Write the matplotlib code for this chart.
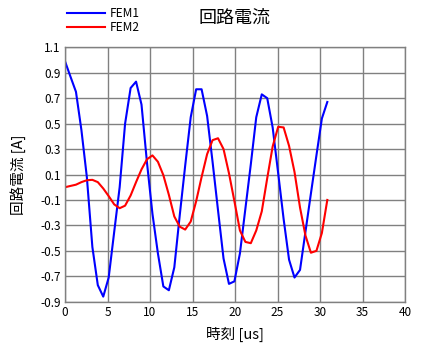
import numpy as np
import matplotlib.pyplot as plt

plt.rcParams['font.family'] = ['Noto Sans CJK JP', 'DejaVu Sans']

# time [us]
t = [0.00, 0.64, 1.29, 1.93, 2.57, 3.22, 3.86, 4.50, 5.14, 5.79,
     6.43, 7.07, 7.72, 8.36, 9.00, 9.65, 10.29, 10.93, 11.57, 12.22,
     12.86, 13.50, 14.14, 14.79, 15.43, 16.07, 16.72, 17.36, 18.00, 18.65,
     19.29, 19.93, 20.58, 21.22, 21.86, 22.50, 23.15, 23.79, 24.43, 25.08,
     25.72, 26.36, 27.00, 27.65, 28.29, 28.93, 29.58, 30.22, 30.86]

fem1 = [0.99, 0.87, 0.75, 0.45, 0.08, -0.47, -0.77, -0.86, -0.71, -0.35,
        0.00, 0.50, 0.78, 0.83, 0.65, 0.19, -0.21, -0.52, -0.78, -0.81,
        -0.63, -0.22, 0.17, 0.55, 0.77, 0.77, 0.56, 0.20, -0.18, -0.56,
        -0.76, -0.74, -0.52, -0.17, 0.18, 0.55, 0.73, 0.70, 0.47, 0.11,
        -0.25, -0.57, -0.71, -0.65, -0.35, -0.05, 0.25, 0.54, 0.67]

fem2 = [0.00, 0.01, 0.02, 0.04, 0.055, 0.058, 0.04, -0.01, -0.07, -0.135,
        -0.165, -0.145, -0.065, 0.04, 0.14, 0.22, 0.25, 0.20, 0.095, -0.06,
        -0.23, -0.31, -0.333, -0.27, -0.11, 0.08, 0.26, 0.37, 0.385, 0.30,
        0.11, -0.11, -0.34, -0.43, -0.44, -0.34, -0.19, 0.07, 0.32, 0.475,
        0.47, 0.325, 0.12, -0.16, -0.38, -0.515, -0.50, -0.36, -0.10]

xticks = [0, 5, 10, 15, 20, 25, 30, 35, 40]
yticks = [-0.9, -0.7, -0.5, -0.3, -0.1, 0.1, 0.3, 0.5, 0.7, 0.9, 1.1]

fig = plt.figure(figsize=(4.25, 3.53), dpi=100)
ax = fig.add_axes([65/425, 1-301.7/353, 340/425, (301.7-47.3)/353])

l1, = ax.plot(t, fem1, color='#0000ff', lw=1.5)
l2, = ax.plot(t, fem2, color='#ff0000', lw=1.5)

ax.set_xlim(0, 40)
ax.set_ylim(-0.9, 1.1)
ax.set_xticks(xticks)
ax.set_yticks(yticks)
ax.set_xticklabels([str(v) for v in xticks])
ax.set_yticklabels(['%.1f' % v for v in yticks])
ax.tick_params(length=0, labelsize=8.5, pad=3)
ax.grid(True, color='#808080', lw=1)
ax.set_axisbelow(True)
for s in ax.spines.values():
    s.set_color('#808080')
    s.set_linewidth(1)

ax.set_xlabel('時刻 [us]', fontsize=10.5, labelpad=6)
ax.set_ylabel('回路電流 [A]', fontsize=10.5, labelpad=10)
fig.text(235/425, 1-18/353, '回路電流', fontsize=13, ha='center', va='center')

fig.legend([l1, l2], ['FEM1', 'FEM2'], loc='upper left',
           bbox_to_anchor=(60/425, 1.0), frameon=False, fontsize=8.5,
           handlelength=3.2, labelspacing=0.05, borderaxespad=0.2,
           handletextpad=0.4)

plt.savefig('out.png', dpi=100)
